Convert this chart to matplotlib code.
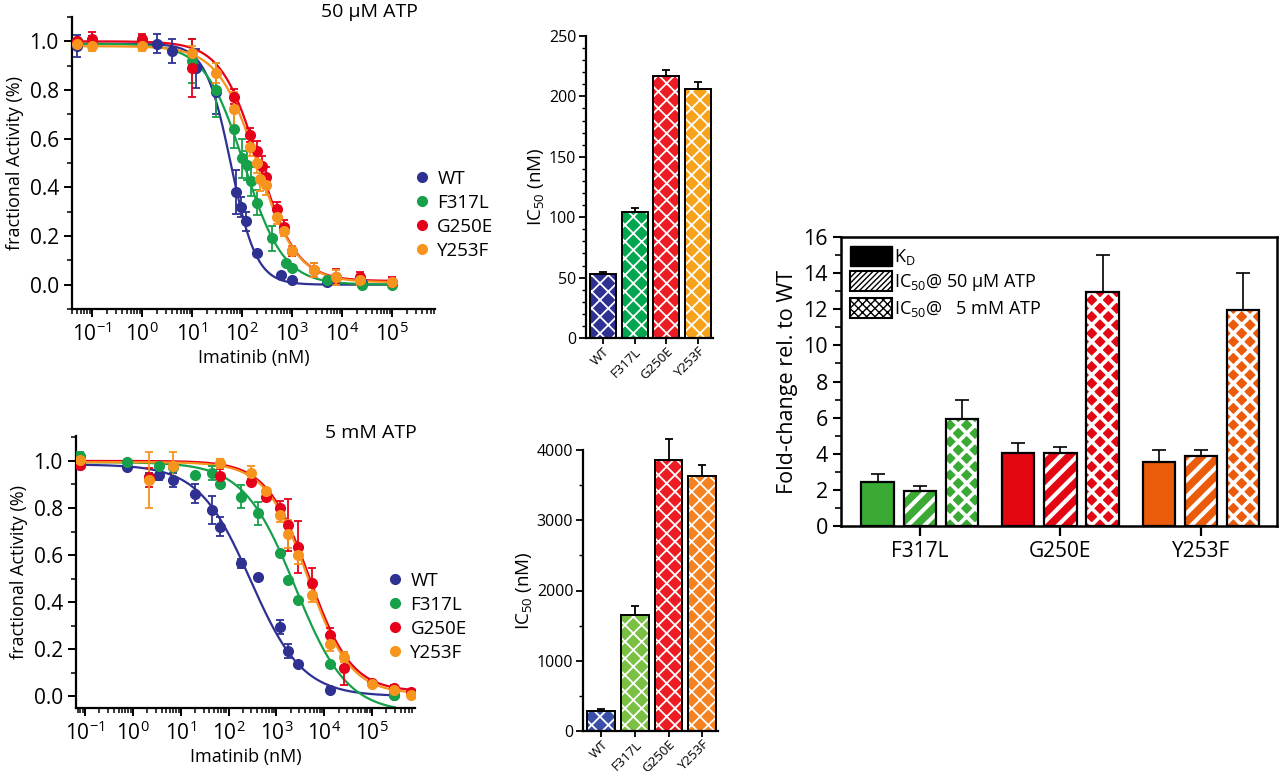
import numpy as np
import matplotlib
matplotlib.use("Agg")
import matplotlib.pyplot as plt
from matplotlib.patches import Patch
from matplotlib.lines import Line2D
from matplotlib.ticker import LogLocator, MultipleLocator, NullFormatter

plt.rcParams["font.family"] = ["Open Sans", "DejaVu Sans"]
plt.rcParams["mathtext.fontset"] = "custom"
plt.rcParams["mathtext.rm"] = "Open Sans"
plt.rcParams["mathtext.default"] = "regular"
plt.rcParams["axes.linewidth"] = 1.6
plt.rcParams["xtick.direction"] = "out"
plt.rcParams["ytick.direction"] = "out"

# Colours for the four kinases
variants = ["WT", "F317L", "G250E", "Y253F"]
curve_colors = ["#2e3192", "#16a04a", "#e6001a", "#f7941d"]

# ---- 50 uM ATP dose-response points (nM, fractional activity, sd)
wt50_x = [0.05, 0.1, 1, 2, 4, 12, 30, 75, 95, 120, 200, 600, 1000, 5000, 25000, 100000]
wt50_y = [0.98, 1.00, 1.00, 0.99, 0.96, 0.89, 0.79, 0.38, 0.32, 0.26, 0.13, 0.04, 0.02, 0.01, 0.005, 0.005]
wt50_e = [0.045, 0.02, 0.02, 0.04, 0.05, 0.08, 0.09, 0.09, 0.04, 0.04, 0, 0, 0, 0, 0, 0]

f50_x = [0.05, 0.1, 1, 10, 30, 68, 100, 126, 150, 195, 400, 770, 1000, 5000, 25000, 100000]
f50_y = [1.0, 1.0, 0.99, 0.92, 0.80, 0.64, 0.52, 0.49, 0.425, 0.337, 0.19, 0.09, 0.067, 0.02, 0.0, 0.0]
f50_e = [0, 0, 0.02, 0.09, 0.11, 0.08, 0.08, 0.06, 0.06, 0.05, 0.05, 0, 0, 0, 0, 0]

g50_x = [0.05, 0.1, 1, 10, 68, 146, 195, 250, 300, 490, 680, 980, 2800, 7700, 22400, 100000]
g50_y = [1.0, 1.01, 1.01, 0.89, 0.773, 0.615, 0.55, 0.488, 0.443, 0.31, 0.237, 0.138, 0.06, 0.033, 0.033, 0.012]
g50_e = [0, 0.03, 0.02, 0.12, 0.03, 0.03, 0.04, 0.04, 0.04, 0.03, 0.03, 0.02, 0.03, 0.03, 0.02, 0.02]

y50_x = [0.05, 0.1, 1, 10, 30, 68, 142, 195, 230, 300, 490, 680, 980, 2800, 7700, 22400, 100000]
y50_y = [0.99, 0.98, 0.98, 0.95, 0.87, 0.72, 0.567, 0.50, 0.436, 0.41, 0.28, 0.22, 0.14, 0.06, 0.03, 0.02, 0.01]
y50_e = [0.02, 0.02, 0.02, 0.03, 0.04, 0.07, 0.04, 0.04, 0.05, 0.04, 0.03, 0.02, 0.02, 0.03, 0.03, 0.02, 0.01]

# fitted curve parameters: ic50, hill, top, bottom
fit50_ic50 = [60, 110, 215, 205]
fit50_hill = [1.7, 1.1, 1.15, 1.1]
fit50_top = [0.99, 0.99, 1.0, 0.98]
fit50_bottom = [0.0, 0.0, 0.015, 0.01]
fit50_xmax = [1e5, 1e5, 1e5, 1e5]

# ---- 5 mM ATP dose-response points
wt5_x = [0.08, 0.75, 2.2, 3.6, 6.9, 20, 46, 65, 186, 410, 1170, 1720, 2800, 13500, 290000]
wt5_y = [0.983, 0.976, 0.93, 0.94, 0.92, 0.86, 0.79, 0.72, 0.565, 0.505, 0.295, 0.193, 0.135, 0.028, 0.004]
wt5_e = [0.01, 0.01, 0.02, 0.02, 0.03, 0.04, 0.06, 0.04, 0.02, 0.01, 0.03, 0.03, 0.01, 0.01, 0.01]

f5_x = [0.08, 0.75, 3.6, 6.9, 20, 46, 65, 186, 410, 1170, 1720, 2800, 13500, 290000]
f5_y = [1.02, 0.997, 0.98, 0.976, 0.94, 0.95, 0.90, 0.848, 0.777, 0.607, 0.494, 0.408, 0.135, 0.004]
f5_e = [0.02, 0, 0.01, 0.01, 0.01, 0.03, 0.01, 0.05, 0.05, 0, 0, 0, 0, 0]

g5_x = [0.08, 2.2, 65, 300, 600, 1170, 1720, 2800, 5600, 13500, 26600, 100000, 290000, 660000]
g5_y = [0.983, 0.93, 0.936, 0.912, 0.848, 0.80, 0.728, 0.635, 0.482, 0.26, 0.118, 0.057, 0.037, 0.018]
g5_e = [0.01, 0.04, 0.03, 0.01, 0.02, 0.03, 0.11, 0.11, 0.065, 0.03, 0.07, 0.01, 0.01, 0.01]

y5_x = [0.08, 2.2, 6.9, 65, 300, 600, 1170, 1720, 2800, 5600, 13500, 26600, 100000, 290000, 660000]
y5_y = [1.004, 0.92, 0.98, 0.99, 0.95, 0.874, 0.77, 0.69, 0.60, 0.43, 0.224, 0.167, 0.054, 0.026, 0.007]
y5_e = [0.01, 0.12, 0.06, 0.02, 0.03, 0.01, 0.03, 0.06, 0.04, 0.03, 0.03, 0.02, 0.01, 0.01, 0.01]

fit5_ic50 = [290, 2500, 4800, 4600]
fit5_hill = [0.8, 0.8, 0.98, 0.98]
fit5_top = [0.985, 0.995, 1.0, 0.995]
fit5_bottom = [0.0, -0.07, 0.02, 0.01]
fit5_xmax = [3e5, 3e5, 7e5, 7e5]

# ---- IC50 bar charts
ic50_50uM = [53, 104, 217, 206]
ic50_50uM_err = [2, 4, 5, 6]
ic50_5mM = [290, 1650, 3860, 3630]
ic50_5mM_err = [30, 130, 290, 160]
bar50_colors = ["#2e3192", "#00a650", "#ed1c24", "#f7a21b"]
bar5_colors = ["#3a4fa8", "#7ac143", "#ed1c24", "#f58220"]

# ---- fold change relative to WT
mutants = ["F317L", "G250E", "Y253F"]
fold_kd = [2.45, 4.05, 3.55]
fold_kd_err = [0.45, 0.55, 0.65]
fold_ic50_50uM = [1.95, 4.05, 3.85]
fold_ic50_50uM_err = [0.25, 0.35, 0.35]
fold_ic50_5mM = [5.95, 12.95, 11.95]
fold_ic50_5mM_err = [1.05, 2.05, 2.05]
fold_colors = ["#3aaa35", "#e30613", "#eb5b0c"]

W, H = 1280, 780
fig = plt.figure(figsize=(12.8, 7.8), dpi=100)


def px_axes(left, top, right, bottom):
    # axes from pixel box of the 1280x780 canvas
    return fig.add_axes([left / W, 1 - bottom / H, (right - left) / W, (bottom - top) / H])


def hill(x, ic50, n, top, bottom):
    return bottom + (top - bottom) / (1 + (x / ic50) ** n)


def set_hatch_lw(patch, lw):
    if hasattr(patch, "set_hatch_linewidth"):
        patch.set_hatch_linewidth(lw)


def dose_panel(ax, points, fits, xlim, ylim, title, title_xy, leg_anchor):
    for (x, y, e), c in zip(points, curve_colors):
        ax.errorbar(x, y, yerr=e, fmt="o", color=c, ms=7, capsize=3,
                    elinewidth=1.3, capthick=1.3, zorder=3)
    ic50s, hills, tops, bottoms, xmaxs = fits
    for i, c in enumerate(curve_colors):
        xs = np.logspace(np.log10(0.05), np.log10(xmaxs[i]), 300)
        ax.plot(xs, hill(xs, ic50s[i], hills[i], tops[i], bottoms[i]), color=c, lw=1.6, zorder=2)
    ax.set_xscale("log")
    ax.set_xlim(*xlim)
    ax.set_ylim(*ylim)
    ax.set_yticks([0.0, 0.2, 0.4, 0.6, 0.8, 1.0])
    ax.yaxis.set_minor_locator(MultipleLocator(0.1))
    ax.set_xticks([1e-1, 1e0, 1e1, 1e2, 1e3, 1e4, 1e5])
    ax.xaxis.set_minor_locator(LogLocator(base=10, subs=np.arange(2, 10), numticks=20))
    ax.xaxis.set_minor_formatter(NullFormatter())
    ax.spines["top"].set_visible(False)
    ax.spines["right"].set_visible(False)
    ax.tick_params(labelsize=15, width=1.4, length=6)
    ax.tick_params(which="minor", width=1.1, length=3.5)
    ax.set_xlabel("Imatinib (nM)", fontsize=13, labelpad=2)
    ax.set_ylabel("fractional Activity (%)", fontsize=13, labelpad=4)
    fig.text(title_xy[0] / W, 1 - title_xy[1] / H, title, fontsize=14, ha="center", va="center")
    handles = [Line2D([], [], ls="", marker="o", ms=7, color=c) for c in curve_colors]
    ax.legend(handles, variants, loc="upper left", frameon=False, fontsize=13.5,
              bbox_to_anchor=(leg_anchor[0] / W, 1 - leg_anchor[1] / H),
              bbox_transform=fig.transFigure, handletextpad=0.3, labelspacing=0.32,
              borderaxespad=0, borderpad=0, handlelength=1.0)


ax1 = px_axes(72, 17, 435, 309)
dose_panel(ax1,
           [(wt50_x, wt50_y, wt50_e), (f50_x, f50_y, f50_e), (g50_x, g50_y, g50_e), (y50_x, y50_y, y50_e)],
           (fit50_ic50, fit50_hill, fit50_top, fit50_bottom, fit50_xmax),
           (10 ** -1.4, 10 ** 5.86), (-0.1, 1.1), "50 \u03bcM ATP", (369, 12), (413, 170))

ax2 = px_axes(76, 436, 415, 708)
dose_panel(ax2,
           [(wt5_x, wt5_y, wt5_e), (f5_x, f5_y, f5_e), (g5_x, g5_y, g5_e), (y5_x, y5_y, y5_e)],
           (fit5_ic50, fit5_hill, fit5_top, fit5_bottom, fit5_xmax),
           (10 ** -1.19, 10 ** 5.9), (-0.05, 1.106), "5 mM ATP", (371, 433), (386, 572))


def ic50_panel(ax, vals, errs, colors, ylim, major, minor):
    xpos = np.arange(len(vals))
    with plt.rc_context({"hatch.linewidth": 1.3}):
        bars = ax.bar(xpos, vals, width=0.82, color=colors, edgecolor="white",
                      hatch="xx", linewidth=0, zorder=2)
    for b in bars:
        set_hatch_lw(b, 1.3)
    ax.bar(xpos, vals, width=0.82, facecolor="none", edgecolor="black", linewidth=1.4, zorder=3)
    ax.errorbar(xpos, vals, yerr=[np.zeros(len(vals)), errs], fmt="none", ecolor="black",
                elinewidth=1.3, capsize=3, capthick=1.3, zorder=4, clip_on=False)
    ax.set_xlim(-0.54, len(vals) - 0.53)
    ax.set_ylim(*ylim)
    ax.yaxis.set_major_locator(MultipleLocator(major))
    ax.yaxis.set_minor_locator(MultipleLocator(minor))
    ax.set_xticks(xpos)
    ax.set_xticklabels(variants, rotation=45, ha="right", rotation_mode="anchor", fontsize=9.5)
    ax.spines["top"].set_visible(False)
    ax.spines["right"].set_visible(False)
    ax.tick_params(axis="y", labelsize=11.5, width=1.3, length=5, pad=2)
    ax.tick_params(axis="y", which="minor", width=1.0, length=3)
    ax.tick_params(axis="x", width=1.3, length=4, pad=1)
    ax.set_ylabel("IC$_{50}$ (nM)", fontsize=13.5, labelpad=2)


ax3 = px_axes(586, 36, 713, 338)
ic50_panel(ax3, ic50_50uM, ic50_50uM_err, bar50_colors, (0, 250), 50, 10)

ax4 = px_axes(583, 450, 718, 731)
ic50_panel(ax4, ic50_5mM, ic50_5mM_err, bar5_colors, (0, 4000), 1000, 500)

# ---- fold change panel
ax5 = px_axes(841, 237, 1277, 526)
gx = np.arange(len(mutants))
bw = 0.23
offsets = [-0.3, 0.0, 0.3]
series = [(fold_kd, fold_kd_err, None), (fold_ic50_50uM, fold_ic50_50uM_err, "//"),
          (fold_ic50_5mM, fold_ic50_5mM_err, "xx")]
for off, (vals, errs, hatch) in zip(offsets, series):
    if hatch is None:
        ax5.bar(gx + off, vals, width=bw, color=fold_colors, linewidth=0, zorder=2)
    else:
        hlw = 3.0 if hatch == "//" else 2.6
        with plt.rc_context({"hatch.linewidth": hlw}):
            bars = ax5.bar(gx + off, vals, width=bw, color=fold_colors, edgecolor="white",
                           hatch=hatch, linewidth=0, zorder=2)
        for b in bars:
            set_hatch_lw(b, hlw)
    ax5.bar(gx + off, vals, width=bw, facecolor="none", edgecolor="black", linewidth=1.6, zorder=3)
    ax5.errorbar(gx + off, vals, yerr=[np.zeros(len(vals)), errs], fmt="none", ecolor="black",
                 elinewidth=1.2, capsize=5, capthick=1.2, zorder=4)
ax5.set_xlim(-0.56, 2.54)
ax5.set_ylim(0, 16)
ax5.set_xticks(gx)
ax5.set_xticklabels(mutants, fontsize=15)
ax5.yaxis.set_major_locator(MultipleLocator(2))
ax5.yaxis.set_minor_locator(MultipleLocator(1))
ax5.tick_params(axis="y", labelsize=15.5, width=1.5, length=6, right=False)
ax5.tick_params(axis="y", which="minor", width=1.2, length=4)
ax5.tick_params(axis="x", width=1.6, length=7)
ax5.set_ylabel("Fold-change rel. to WT", fontsize=15.5, labelpad=4)
for s in ax5.spines.values():
    s.set_linewidth(1.8)

with plt.rc_context({"hatch.linewidth": 1.0}):
    leg_handles = [Patch(facecolor="black", edgecolor="black"),
                   Patch(facecolor="white", edgecolor="black", hatch="//////", linewidth=1.5),
                   Patch(facecolor="white", edgecolor="black", hatch="xxxx", linewidth=1.5)]
leg_labels = ["K$_{D}$", "IC$_{50}$@ 50 \u03bcM ATP", "IC$_{50}$@   5 mM ATP"]
ax5.legend(leg_handles, leg_labels, loc="upper left", frameon=False, fontsize=13,
           handlelength=2.3, handleheight=1.3, handletextpad=0.15, labelspacing=0.25,
           borderaxespad=0.3, borderpad=0.2)

fig.savefig("out.png", dpi=100)
